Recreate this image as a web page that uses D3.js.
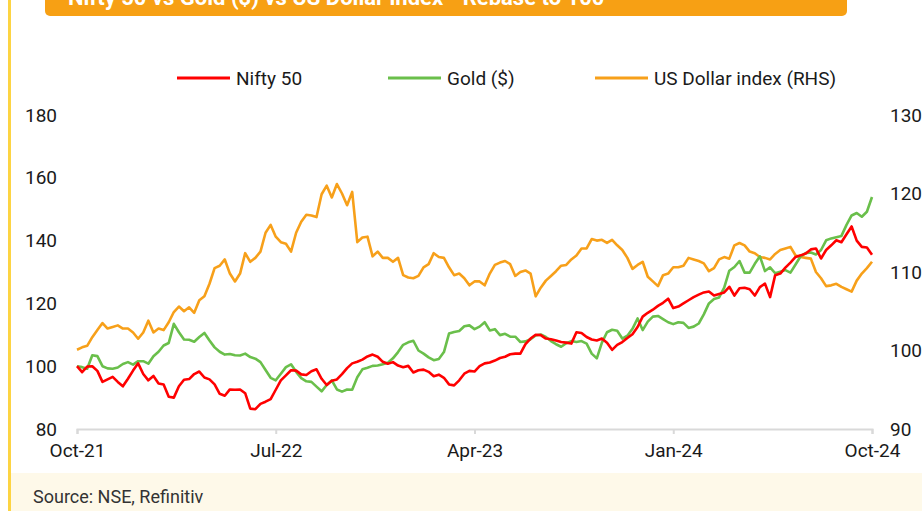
<!DOCTYPE html>
<html>
<head>
<meta charset="utf-8">
<script src="https://cdn.jsdelivr.net/npm/d3@7"></script>
<style>
  body { margin: 0; background: #fff; }
  text { font-family: Roboto, "Open Sans", sans-serif; }
</style>
</head>
<body>
<div id="chart"></div>
<script>
// Weekly readings, Oct-21 .. Oct-24 (rebased to 100)
const xLabels = ["Oct-21", "Jul-22", "Apr-23", "Jan-24", "Oct-24"];
const xLabelWeeks = [0, 39, 78, 117, 156];
const leftTicks = [80, 100, 120, 140, 160, 180];
const rightTicks = [90, 100, 110, 120, 130];

const nifty = [100,98.1,99.9,100.0,98.5,95.0,95.8,96.6,95.0,93.6,
  96.0,98.6,100.9,97.5,95.5,96.9,94.5,94.2,90.3,90.0,
  93.6,95.7,95.9,97.5,98.3,96.4,95.8,94.2,91.2,90.6,
  92.6,92.5,92.6,91.4,86.5,86.3,88.0,88.7,89.5,92.5,
  95.5,97.1,98.7,98.6,97.4,97.2,98.4,99.0,96.0,94.0,
  95.4,95.8,97.5,99.4,100.9,101.4,102.1,103.1,103.7,103.0,
  101.4,100.8,101.3,100.2,99.7,100.1,98.0,98.7,98.9,98.2,
  96.8,97.3,96.3,94.2,93.9,95.5,97.6,98.5,98.3,100.0,
  100.9,101.2,101.8,102.6,103.0,103.8,104,104,107,108.8,
  110.0,109.9,108.8,108.6,108.2,107.7,107.5,107.2,110.8,110.6,
  109.3,108.5,108.2,108.8,107.5,105.2,106.8,107.7,109,110.2,
  112.5,115.8,117,118,119.2,120.2,121.5,118.5,119,120,
  121,122,122.8,123.5,123.8,122.5,123,123.5,125.3,122.5,
  124.8,125,124.5,122.5,125.2,126.3,122,129,129.5,131.4,
  133,134.8,135.3,135.9,137.2,137.5,134.3,137,138.5,140.1,
  139.5,142,144.5,140,138,137.8,135.5];

const gold = [100,99.7,99.2,103.5,103.2,100.0,99.3,99.2,99.6,100.7,
  101.3,100.5,101.6,101.6,100.8,103.2,104.6,106.6,107.4,113.5,
  110.8,108.5,108.4,107.8,109.3,110.6,108.2,106,104.6,103.7,
  103.9,103.5,103.4,104,102.9,102.4,101.3,98.8,96.3,95.5,
  97.6,99.7,100.6,98.2,96.2,95.2,95.0,93.5,92.0,94.0,
  95.5,92.6,91.9,92.6,92.5,96.5,99.0,99.5,100.1,100.2,
  100.6,101.1,102.5,104.5,106.8,107.6,108.1,105,104,102.8,
  101.9,102.3,104.5,110.4,110.9,111.2,112.7,113,111.8,112.6,
  114,111.4,111.8,109.9,110.3,109.4,109.4,107.7,107.9,108.6,
  109.8,110.1,109.3,108.0,107,106.2,107.3,108,107.7,108,
  107.2,104,102.5,107.5,110.8,111.6,111.3,108.8,109.7,111.9,
  115.2,111.5,114.2,115.8,116,115,114,113.4,114,113.8,
  112.2,112.6,113.6,116.5,120,121.4,121.9,125,130.4,131.6,
  133.5,129.8,129.8,132.6,135,130.3,131.5,129.6,130.1,130.6,
  129.8,132.4,135,136,136.2,135.6,137,140.1,140.7,141.1,
  141.5,145,148,148.8,147.6,149.2,153.9];

const usd = [100.1,100.4,100.6,101.7,102.6,103.5,102.8,103.0,103.2,102.8,
  102.8,102.3,101.5,102.3,103.8,102.3,102.8,102.6,103.6,104.9,
  105.6,105.0,105.5,104.8,106.4,106.9,108.5,110.5,110.8,111.6,
  109.8,108.8,109.8,112.4,111.3,111.8,112.6,115,116,114.5,
  113.8,113.6,112.6,115,116.4,117.3,117.2,117,119.9,121.0,
  119.5,121.2,120,118.5,120.2,113.8,114.4,114.5,112,112.6,
  111.8,111.8,111.3,111.8,109.6,109.3,109.2,109.5,110.6,111.0,
  112.4,111.9,111.8,110.6,109.6,109.8,109.2,108.3,108.8,108.8,
  108.3,109.8,110.9,111.2,111.4,111.0,109.5,110,110.2,109.8,
  106.9,108.0,108.9,109.5,110.1,110.8,110.9,111.6,112.1,113,
  113,114.2,114,114.1,113.7,114.1,113.4,112.8,111.8,110.4,
  110.9,111.3,109.4,108.8,108.2,109.6,109.8,110.6,110.6,110.8,
  111.8,111.6,111.4,111.1,110.1,110.5,111.6,111.9,111.7,113.4,
  113.7,113.4,112.6,112.4,111.9,111.8,111.6,112.3,112.8,113,
  113.2,112.1,111.9,111.8,111.7,110.0,109.2,108.2,108.3,108.5,
  108.1,107.8,107.5,108.9,109.8,110.5,111.3];

const seriesNames = ["Nifty 50", "Gold ($)", "US Dollar index (RHS)"];
const seriesColors = ["#ff0000", "#6abf4b", "#f7a01a"];

function renderChart() {
  d3.select("#chart").html("");
  const width = 922, height = 511;
  const plot = {left: 77, right: 872, top: 115, bottom: 429};

  const svg = d3.select("#chart")
    .append("svg")
    .attr("width", width)
    .attr("height", height);

  // Frame: left accent bar, title box, source band
  svg.append("rect")
    .attr("x", 8).attr("y", 0)
    .attr("width", 3).attr("height", height)
    .attr("fill", "#fdd443");

  svg.append("rect")
    .attr("x", 11).attr("y", 473)
    .attr("width", width - 11).attr("height", height - 473)
    .attr("fill", "#fef9e9");

  svg.append("rect")
    .attr("x", 45).attr("y", -20)
    .attr("width", 802).attr("height", 36)
    .attr("rx", 5)
    .attr("fill", "#f7a014");

  svg.append("text")
    .attr("x", 68).attr("y", 5)
    .attr("fill", "#fff")
    .attr("font-size", "22px")
    .attr("font-weight", "bold")
    .text("Nifty 50 vs Gold ($) vs US Dollar index - Rebase to 100");

  svg.append("text")
    .attr("x", 33).attr("y", 503)
    .attr("fill", "#333")
    .attr("font-size", "18px")
    .text("Source: NSE, Refinitiv");

  // Scales
  const x = d3.scaleLinear()
    .domain([0, nifty.length - 1])
    .range([plot.left, plot.right]);
  const yLeft = d3.scaleLinear()
    .domain([80, 180])
    .range([plot.bottom, plot.top]);
  const yRight = d3.scaleLinear()
    .domain([90, 130])
    .range([plot.bottom, plot.top]);

  // X axis
  const xAxis = svg.append("g")
    .attr("transform", `translate(0,${plot.bottom})`)
    .call(d3.axisBottom(x)
      .tickValues(xLabelWeeks)
      .tickSize(5)
      .tickPadding(10)
      .tickFormat((d, i) => xLabels[i]));
  xAxis.select(".domain").attr("stroke", "#d9d9d9").attr("stroke-width", 2);
  xAxis.selectAll(".tick line").attr("stroke", "#d9d9d9").attr("stroke-width", 2);
  xAxis.selectAll(".tick text")
    .attr("fill", "#1a1a1a")
    .attr("font-size", "19px")
    .style("font-family", "Roboto, sans-serif");

  // Left axis labels
  const leftAxis = svg.append("g")
    .attr("transform", `translate(${plot.left - 20},0)`)
    .call(d3.axisLeft(yLeft).tickValues(leftTicks).tickSize(0).tickPadding(0));
  leftAxis.select(".domain").remove();
  leftAxis.selectAll(".tick text")
    .attr("fill", "#1a1a1a")
    .attr("font-size", "19px")
    .style("font-family", "Roboto, sans-serif");

  // Right axis labels
  const rightAxis = svg.append("g")
    .attr("transform", `translate(${plot.right + 18},0)`)
    .call(d3.axisRight(yRight).tickValues(rightTicks).tickSize(0).tickPadding(0));
  rightAxis.select(".domain").remove();
  rightAxis.selectAll(".tick text")
    .attr("fill", "#1a1a1a")
    .attr("font-size", "19px")
    .style("font-family", "Roboto, sans-serif");

  // Lines
  const lineLeft = d3.line().x((d, i) => x(i)).y(d => yLeft(d));
  const lineRight = d3.line().x((d, i) => x(i)).y(d => yRight(d));

  svg.append("path")
    .datum(usd)
    .attr("fill", "none")
    .attr("stroke", seriesColors[2])
    .attr("stroke-width", 2.6)
    .attr("stroke-linejoin", "round")
    .attr("d", lineRight);

  svg.append("path")
    .datum(gold)
    .attr("fill", "none")
    .attr("stroke", seriesColors[1])
    .attr("stroke-width", 2.6)
    .attr("stroke-linejoin", "round")
    .attr("d", lineLeft);

  svg.append("path")
    .datum(nifty)
    .attr("fill", "none")
    .attr("stroke", seriesColors[0])
    .attr("stroke-width", 2.6)
    .attr("stroke-linejoin", "round")
    .attr("d", lineLeft);

  // Legend
  const legendX = [177, 388, 595];
  const legend = svg.append("g");
  seriesNames.forEach((name, i) => {
    legend.append("line")
      .attr("x1", legendX[i]).attr("x2", legendX[i] + 53)
      .attr("y1", 78).attr("y2", 78)
      .attr("stroke", seriesColors[i])
      .attr("stroke-width", 3);
    legend.append("text")
      .attr("x", legendX[i] + 59).attr("y", 78)
      .attr("dy", "0.35em")
      .attr("fill", "#1a1a1a")
      .attr("font-size", "19px")
      .text(name);
  });
}

renderChart();
</script>
</body>
</html>
